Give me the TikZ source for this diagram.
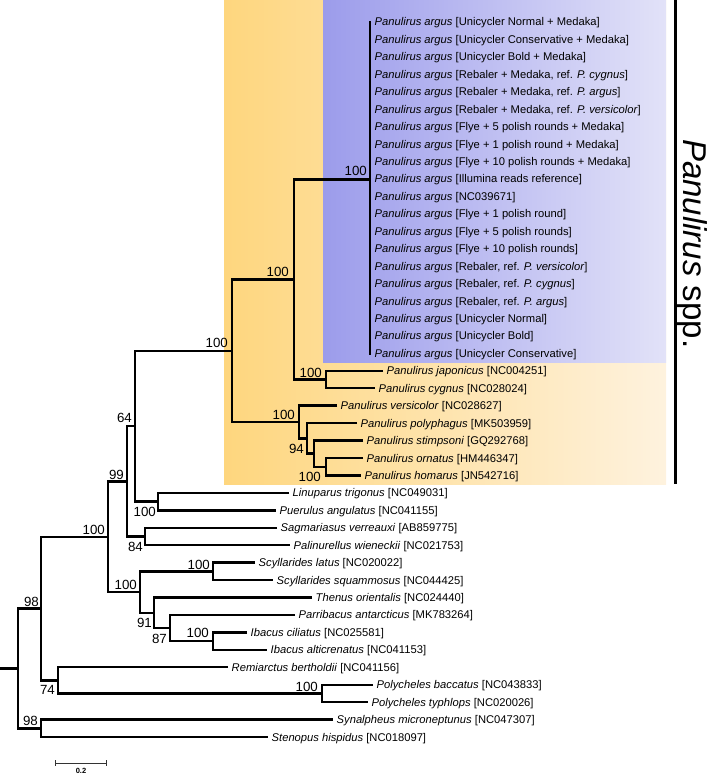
\documentclass[tikz,border=0pt]{standalone}
\usepackage{fontspec}
\setmainfont{Liberation Sans}
\definecolor{orL}{RGB}{254,214,126}
\definecolor{orR}{RGB}{254,242,222}
\definecolor{blL}{RGB}{156,156,235}
\definecolor{blR}{RGB}{226,226,248}
\newcommand\ry[1]{22+(#1-1)*17.44}
\tikzset{
  br/.style={line width=2.4pt, line join=miter, draw=black},
  taxon/.style={anchor=west, inner sep=0pt, text height=8pt, text depth=0pt, font=\fontsize{11.2}{13}\selectfont},
  bs/.style={anchor=east, inner sep=0pt, text height=9.5pt, text depth=0pt, font=\fontsize{13.3}{15}\selectfont},
}
\newcommand\tip[3]{\coordinate (t#1) at (#2,{\ry{#1}}); \node[taxon] (l#1) at ([xshift=3.5pt]t#1) {#3};}
\newcommand\pargus[2]{\tip{#1}{371}{\textit{Panulirus argus} [#2]}}
\begin{document}
\begin{tikzpicture}[x=1pt,y=-1pt]
\useasboundingbox (0,0) rectangle (710,775);
% background boxes
\shade[left color=orL, right color=orR] (224,0) rectangle (666,484);
\shade[left color=blL, right color=blR] (323,0) rectangle (666,362);
\coordinate (bar0) at (675,0);
\coordinate (bar1) at (675,484);
\draw[line width=3pt] (bar0) -- (bar1);
\node[rotate=-90, anchor=base west, inner sep=0pt, font=\fontsize{33}{36}\selectfont] (clade) at (683,139) {\textit{Panulirus} spp.};
% tips
\pargus{1}{Unicycler Normal + Medaka}
\pargus{2}{Unicycler Conservative + Medaka}
\pargus{3}{Unicycler Bold + Medaka}
\pargus{4}{Rebaler + Medaka, ref. \textit{P. cygnus}}
\pargus{5}{Rebaler + Medaka, ref. \textit{P. argus}}
\pargus{6}{Rebaler + Medaka, ref. \textit{P. versicolor}}
\pargus{7}{Flye + 5 polish rounds + Medaka}
\pargus{8}{Flye + 1 polish round + Medaka}
\pargus{9}{Flye + 10 polish rounds + Medaka}
\pargus{10}{Illumina reads reference}
\pargus{11}{NC039671}
\pargus{12}{Flye + 1 polish round}
\pargus{13}{Flye + 5 polish rounds}
\pargus{14}{Flye + 10 polish rounds}
\pargus{15}{Rebaler, ref. \textit{P. versicolor}}
\pargus{16}{Rebaler, ref. \textit{P. cygnus}}
\pargus{17}{Rebaler, ref. \textit{P. argus}}
\pargus{18}{Unicycler Normal}
\pargus{19}{Unicycler Bold}
\pargus{20}{Unicycler Conservative}
\tip{21}{383}{\textit{Panulirus japonicus} [NC004251]}
\tip{22}{375}{\textit{Panulirus cygnus} [NC028024]}
\tip{23}{337}{\textit{Panulirus versicolor} [NC028627]}
\tip{24}{357}{\textit{Panulirus polyphagus} [MK503959]}
\tip{25}{363}{\textit{Panulirus stimpsoni} [GQ292768]}
\tip{26}{363}{\textit{Panulirus ornatus} [HM446347]}
\tip{27}{361}{\textit{Panulirus homarus} [JN542716]}
\tip{28}{289}{\textit{Linuparus trigonus} [NC049031]}
\tip{29}{276}{\textit{Puerulus angulatus} [NC041155]}
\tip{30}{277}{\textit{Sagmariasus verreauxi} [AB859775]}
\tip{31}{290}{\textit{Palinurellus wieneckii} [NC021753]}
\tip{32}{255}{\textit{Scyllarides latus} [NC020022]}
\tip{33}{273}{\textit{Scyllarides squammosus} [NC044425]}
\tip{34}{312}{\textit{Thenus orientalis} [NC024440]}
\tip{35}{295}{\textit{Parribacus antarcticus} [MK783264]}
\tip{36}{247}{\textit{Ibacus ciliatus} [NC025581]}
\tip{37}{267}{\textit{Ibacus alticrenatus} [NC041153]}
\tip{38}{228}{\textit{Remiarctus bertholdii} [NC041156]}
\tip{39}{373}{\textit{Polycheles baccatus} [NC043833]}
\tip{40}{368}{\textit{Polycheles typhlops} [NC020026]}
\tip{41}{333}{\textit{Synalpheus microneptunus} [NC047307]}
\tip{42}{268}{\textit{Stenopus hispidus} [NC018097]}
% internal nodes
\coordinate (nA) at (370,179.5);
\coordinate (n294) at (294,279.5);
\coordinate (nJC) at (326,379.5);
\coordinate (nD) at (326,466.7);
\coordinate (nC) at (314,453.6);
\coordinate (nB) at (307,438.4);
\coordinate (nVA) at (299,422.0);
\coordinate (n232) at (232,350.8);
\coordinate (n158) at (158,501.6);
\coordinate (n135) at (135,426.2);
\coordinate (n145) at (145,536.5);
\coordinate (n127) at (127,481.4);
\coordinate (nSc) at (213,571.4);
\coordinate (nIb) at (213,641.1);
\coordinate (n170) at (170,628.0);
\coordinate (n154) at (154,612.8);
\coordinate (n140) at (140,592.1);
\coordinate (n108) at (108,536.8);
\coordinate (nPo) at (322,693.4);
\coordinate (n58) at (58,680.3);
\coordinate (n41a) at (41,608.6);
\coordinate (n41b) at (41,728.3);
\coordinate (nR) at (18,668.5);
\coordinate (r0) at (0,668.5);
% branches
\draw[br] (t1) -| (nA) |- (t20);
\foreach \i in {2,...,19} { \draw[br] (nA |- t\i) -- (t\i); }
\draw[br] (nA) -| (n294) |- (nJC);
\draw[br] (t21) -| (nJC) |- (t22);
\draw[br] (t26) -| (nD) |- (t27);
\draw[br] (t25) -| (nC) |- (nD);
\draw[br] (t24) -| (nB) |- (nC);
\draw[br] (t23) -| (nVA) |- (nB);
\draw[br] (n294) -| (n232) |- (nVA);
\draw[br] (t28) -| (n158) |- (t29);
\draw[br] (n232) -| (n135) |- (n158);
\draw[br] (t30) -| (n145) |- (t31);
\draw[br] (n135) -| (n127) |- (n145);
\draw[br] (t32) -| (nSc) |- (t33);
\draw[br] (t36) -| (nIb) |- (t37);
\draw[br] (t35) -| (n170) |- (nIb);
\draw[br] (t34) -| (n154) |- (n170);
\draw[br] (nSc) -| (n140) |- (n154);
\draw[br] (n127) -| (n108) |- (n140);
\draw[br] (t39) -| (nPo) |- (t40);
\draw[br] (t38) -| (n58) |- (nPo);
\draw[br] (n108) -| (n41a) |- (n58);
\draw[br] (t41) -| (n41b) |- (t42);
\draw[br] (n41a) -| (nR) |- (n41b);
\draw[br] (r0) -- (nR);
% bootstrap labels
\node[bs] (bA) at (367,171) {100};
\node[bs] (b294) at (289,272) {100};
\node[bs] (b232) at (228,342.5) {100};
\node[bs] (bJC) at (322,372.5) {100};
\node[bs] (bVA) at (295,415) {100};
\node[bs] (bB) at (304,448.5) {94};
\node[bs] (bD) at (321,477) {100};
\node[bs] (b135) at (132,418) {64};
\node[bs] (b127) at (124,475) {99};
\node[bs] (b158) at (156,512) {100};
\node[bs] (b145) at (143,547) {84};
\node[bs] (b108) at (105,530) {100};
\node[bs] (b140) at (137,585) {100};
\node[bs] (bSc) at (210,565) {100};
\node[bs] (b154) at (152,623) {91};
\node[bs] (b170) at (167,639) {87};
\node[bs] (bIb) at (209,633) {100};
\node[bs] (b41a) at (39,602) {98};
\node[bs] (b58) at (55,690) {74};
\node[bs] (b41b) at (38,721) {98};
\node[bs] (bPo) at (318,687) {100};
% scale bar
\coordinate (s0) at (55,763);
\coordinate (s1) at (106,763);
\draw[line width=0.9pt, draw=black!80] (s0) -- (s1);
\draw[line width=0.9pt, draw=black!80] ([yshift=3pt]s0) -- ([yshift=-3pt]s0);
\draw[line width=0.9pt, draw=black!80] ([yshift=3pt]s1) -- ([yshift=-3pt]s1);
\node[inner sep=0pt, font=\fontsize{7.5}{8}\selectfont\bfseries] (sl) at (81,771) {0.2};
\end{tikzpicture}
\end{document}
